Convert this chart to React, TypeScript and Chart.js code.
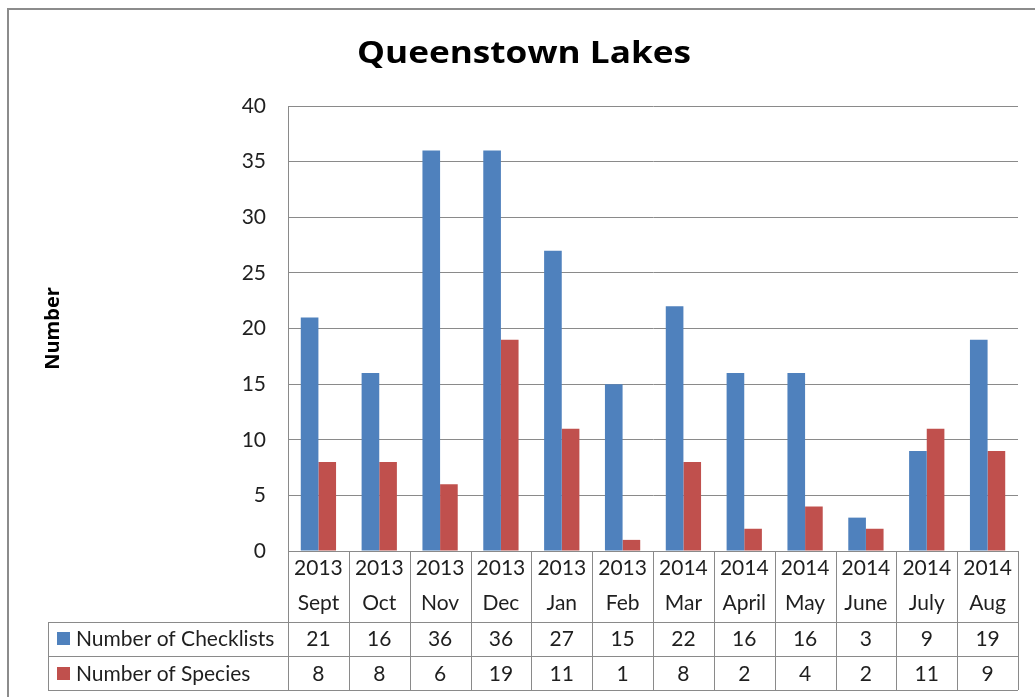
import React, { useEffect, useRef } from "react";
import { Chart, registerables } from "chart.js";

Chart.register(...registerables);

const years = ["2013", "2013", "2013", "2013", "2013", "2013", "2014", "2014", "2014", "2014", "2014", "2014"];
const months = ["Sept", "Oct", "Nov", "Dec", "Jan", "Feb", "Mar", "April", "May", "June", "July", "Aug"];
const checklists = [21, 16, 36, 36, 27, 15, 22, 16, 16, 3, 9, 19];
const species = [8, 8, 6, 19, 11, 1, 8, 2, 4, 2, 11, 9];
const seriesNames = ["Number of Checklists", "Number of Species"];
const seriesColors = ["#4F81BD", "#C0504D"];
const chartTitle = "Queenstown Lakes";
const yTitle = "Number";
const yMin = 0;
const yMax = 40;
const yStep = 5;

const FONT = "Lato, 'Open Sans', sans-serif";
const TITLE_FONT = "'Open Sans', sans-serif";
const TEXT = "#1f1f1f";
const GRID = "#8a8a8a";

const tablePlugin = {
  id: "dataTable",
  afterDraw(chart: any) {
    const { ctx, chartArea: ca, scales } = chart;
    const x = scales.x;
    const n = months.length;
    const colW = (ca.right - ca.left) / n;
    const headTop = ca.bottom;
    const headBottom = 622;
    const row1B = 656;
    const row2B = 690;
    const legendL = 48;
    ctx.save();
    // frame
    ctx.strokeStyle = "#8c8c8c";
    ctx.lineWidth = 2;
    ctx.strokeRect(8, 9, 1200, 900);
    // title (slightly widened like the original)
    ctx.save();
    ctx.fillStyle = "#000";
    ctx.font = `bold 31px ${TITLE_FONT}`;
    ctx.textAlign = "center";
    ctx.textBaseline = "middle";
    const w = ctx.measureText(chartTitle).width;
    const sx = w > 0 ? 334 / w : 1;
    ctx.translate(524, 54);
    ctx.scale(sx, 1);
    ctx.fillText(chartTitle, 0, 0);
    ctx.restore();
    // table lines
    ctx.strokeStyle = GRID;
    ctx.lineWidth = 1;
    ctx.beginPath();
    for (let i = 0; i <= n; i++) {
      const xx = Math.round(ca.left + i * colW) + 0.5;
      ctx.moveTo(xx, headTop);
      ctx.lineTo(xx, row2B);
    }
    for (const yy of [headBottom, row1B, row2B]) {
      ctx.moveTo(legendL, yy + 0.5);
      ctx.lineTo(ca.right, yy + 0.5);
    }
    ctx.moveTo(legendL + 0.5, headBottom);
    ctx.lineTo(legendL + 0.5, row2B);
    ctx.stroke();
    // header and value texts
    ctx.fillStyle = TEXT;
    ctx.font = `21px ${FONT}`;
    ctx.textAlign = "center";
    ctx.textBaseline = "middle";
    for (let i = 0; i < n; i++) {
      const cx = x.getPixelForValue(i);
      ctx.fillText(years[i], cx, 568);
      ctx.fillText(months[i], cx, 603);
      ctx.fillText(String(checklists[i]), cx, 639);
      ctx.fillText(String(species[i]), cx, 674);
    }
    // legend keys
    const rowsY = [639, 674];
    ctx.textAlign = "left";
    for (let r = 0; r < 2; r++) {
      ctx.fillStyle = seriesColors[r];
      ctx.fillRect(57, rowsY[r] - 7, 13, 13);
      ctx.fillStyle = TEXT;
      ctx.fillText(seriesNames[r], 76, rowsY[r]);
    }
    ctx.restore();
  },
};

export default function App() {
  const ref = useRef<HTMLCanvasElement>(null);
  useEffect(() => {
    if (!ref.current) return;
    const chart = new Chart(ref.current, {
      type: "bar",
      data: {
        labels: months,
        datasets: [
          { label: seriesNames[0], data: checklists, backgroundColor: seriesColors[0], barPercentage: 1, categoryPercentage: 0.58 },
          { label: seriesNames[1], data: species, backgroundColor: seriesColors[1], barPercentage: 1, categoryPercentage: 0.58 },
        ],
      },
      options: {
        animation: false,
        responsive: false,
        layout: { padding: { top: 106, right: 17, bottom: 146, left: 0 } },
        plugins: { legend: { display: false }, title: { display: false }, tooltip: { enabled: false } },
        scales: {
          x: { display: false, grid: { display: false } },
          y: {
            min: yMin,
            max: yMax,
            ticks: { stepSize: yStep, padding: 22, color: TEXT, font: { family: FONT, size: 21 } },
            grid: { color: GRID, drawTicks: false },
            border: { display: true, color: GRID },
            title: { display: true, text: yTitle, color: "#000", font: { family: TITLE_FONT, size: 20, weight: "bold" }, padding: { top: 41 } },
            afterFit: (s: any) => { s.width = 288; },
          },
        },
      },
      plugins: [tablePlugin],
    });
    return () => chart.destroy();
  }, []);
  return (
    <div style={{ position: "fixed", left: 0, top: 0, width: 1035, height: 697, background: "#fff" }}>
      <canvas ref={ref} width={1035} height={697} style={{ display: "block" }} />
    </div>
  );
}
